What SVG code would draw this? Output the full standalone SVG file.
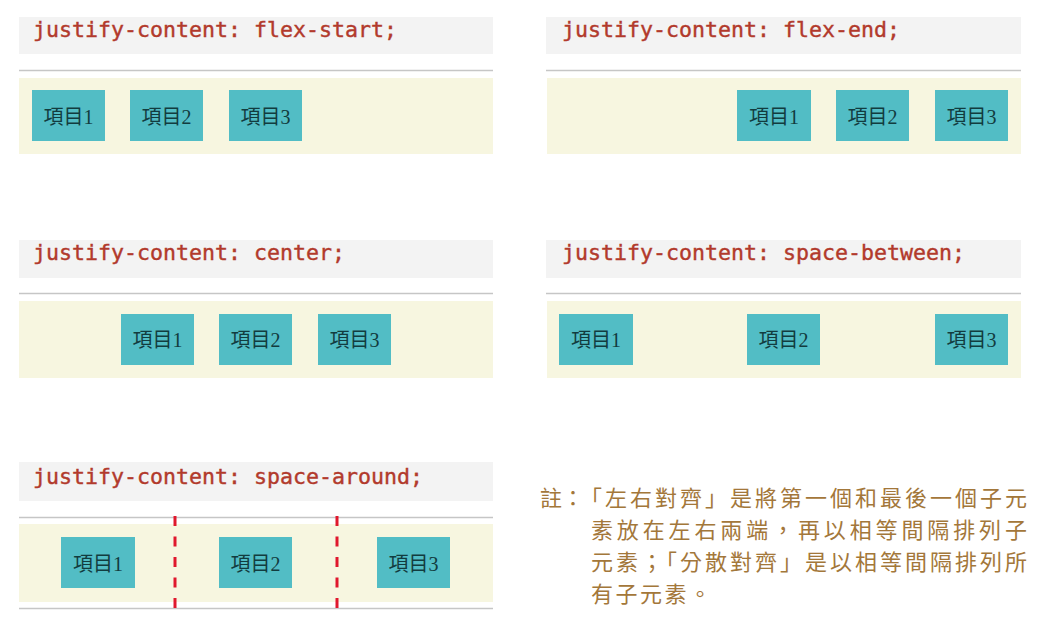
<svg xmlns="http://www.w3.org/2000/svg" width="1051" height="623" viewBox="0 0 1051 623">
  <style>
    .bar { fill: #f3f3f3; }
    .rule { stroke: #c6c6c6; stroke-width: 1.5; }
    .area { fill: #f7f6e0; }
    .code { font-family: "DejaVu Sans Mono", "Liberation Mono", monospace; font-size: 21.6px; fill: #b23a2c; stroke: #b23a2c; stroke-width: 0.4; }
    .item rect { fill: #52bdc5; }
    .item text { font-family: "Liberation Serif", "Noto Sans CJK TC", serif; font-size: 20px; fill: #123c3f; text-anchor: middle; }
    .dash { stroke: #e0182d; stroke-width: 3; stroke-dasharray: 10 10.5; }
    .note { font-family: "Noto Sans CJK TC", "Noto Sans CJK JP", sans-serif; font-size: 22px; fill: #a3773a; }
  </style>
  <rect width="1051" height="623" fill="#ffffff"/>

  <!-- Panel 1: flex-start -->
  <g id="panel-flex-start">
    <rect class="bar" x="19" y="17" width="474" height="37"/>
    <text class="code" x="33" y="37">justify-content: flex-start;</text>
    <line class="rule" x1="19" y1="70.5" x2="493" y2="70.5"/>
    <rect class="area" x="19" y="78" width="474" height="76"/>
    <g id="fs-item1" class="item"><rect x="32" y="90" width="73" height="51"/><text x="68.5" y="124">項目1</text></g>
    <g id="fs-item2" class="item"><rect x="130" y="90" width="73" height="51"/><text x="166.5" y="124">項目2</text></g>
    <g id="fs-item3" class="item"><rect x="229" y="90" width="73" height="51"/><text x="265.5" y="124">項目3</text></g>
  </g>

  <!-- Panel 2: flex-end -->
  <g id="panel-flex-end">
    <rect class="bar" x="546" y="17" width="475" height="37"/>
    <text class="code" x="562" y="37">justify-content: flex-end;</text>
    <line class="rule" x1="546" y1="70.5" x2="1021" y2="70.5"/>
    <rect class="area" x="547" y="78" width="474" height="76"/>
    <g id="fe-item1" class="item"><rect x="737" y="90" width="74" height="51"/><text x="774" y="124">項目1</text></g>
    <g id="fe-item2" class="item"><rect x="836" y="90" width="73" height="51"/><text x="872.5" y="124">項目2</text></g>
    <g id="fe-item3" class="item"><rect x="935" y="90" width="73" height="51"/><text x="971.5" y="124">項目3</text></g>
  </g>

  <!-- Panel 3: center -->
  <g id="panel-center">
    <rect class="bar" x="19" y="240" width="474" height="38"/>
    <text class="code" x="33" y="260">justify-content: center;</text>
    <line class="rule" x1="19" y1="293.5" x2="493" y2="293.5"/>
    <rect class="area" x="19" y="301" width="474" height="77"/>
    <g id="c-item1" class="item"><rect x="121" y="314" width="73" height="51"/><text x="157.5" y="347">項目1</text></g>
    <g id="c-item2" class="item"><rect x="219" y="314" width="73" height="51"/><text x="255.5" y="347">項目2</text></g>
    <g id="c-item3" class="item"><rect x="318" y="314" width="73" height="51"/><text x="354.5" y="347">項目3</text></g>
  </g>

  <!-- Panel 4: space-between -->
  <g id="panel-space-between">
    <rect class="bar" x="546" y="240" width="475" height="38"/>
    <text class="code" x="562" y="260">justify-content: space-between;</text>
    <line class="rule" x1="546" y1="293.5" x2="1021" y2="293.5"/>
    <rect class="area" x="547" y="301" width="474" height="77"/>
    <g id="sb-item1" class="item"><rect x="559" y="314" width="74" height="51"/><text x="596" y="347">項目1</text></g>
    <g id="sb-item2" class="item"><rect x="747" y="314" width="73" height="51"/><text x="783.5" y="347">項目2</text></g>
    <g id="sb-item3" class="item"><rect x="935" y="314" width="73" height="51"/><text x="971.5" y="347">項目3</text></g>
  </g>

  <!-- Panel 5: space-around -->
  <g id="panel-space-around">
    <rect class="bar" x="19" y="462" width="474" height="39"/>
    <text class="code" x="33" y="484">justify-content: space-around;</text>
    <line class="rule" x1="19" y1="517.5" x2="493" y2="517.5"/>
    <rect class="area" x="19" y="524" width="474" height="78"/>
    <line class="rule" x1="19" y1="608.5" x2="493" y2="608.5"/>
    <g id="sa-item1" class="item"><rect x="61" y="537" width="74" height="51"/><text x="98" y="571">項目1</text></g>
    <g id="sa-item2" class="item"><rect x="219" y="537" width="73" height="51"/><text x="255.5" y="571">項目2</text></g>
    <g id="sa-item3" class="item"><rect x="377" y="537" width="73" height="51"/><text x="413.5" y="571">項目3</text></g>
  </g>

  <!-- dashed separators -->
  <g id="connectors">
    <line class="dash" x1="175" y1="516" x2="175" y2="609"/>
    <line class="dash" x1="337" y1="516" x2="337" y2="609"/>
  </g>

  <!-- Note -->
  <g id="note">
    <text class="note" x="540" y="506">註：</text>
    <text class="note" x="580" y="506" textLength="447" lengthAdjust="spacing">「左右對齊」是將第一個和最後一個子元</text>
    <text class="note" x="591" y="538" textLength="436" lengthAdjust="spacing">素放在左右兩端，再以相等間隔排列子</text>
    <text class="note" x="591" y="570" textLength="436" lengthAdjust="spacing">元素；「分散對齊」是以相等間隔排列所</text>
    <text class="note" x="591" y="602" letter-spacing="2.5">有子元素。</text>
  </g>
</svg>
